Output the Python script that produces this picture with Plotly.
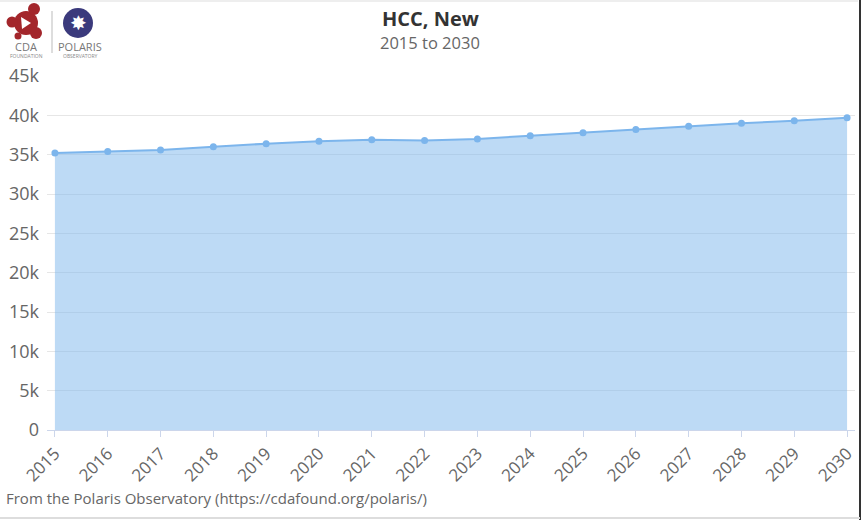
import plotly.graph_objects as go

years = list(range(2015, 2031))
values = [35200, 35400, 35600, 36000, 36400, 36700, 36900, 36800,
          37000, 37400, 37800, 38200, 38600, 39000, 39300, 39700]
y_ticks = [0, 5000, 10000, 15000, 20000, 25000, 30000, 35000, 40000, 45000]
y_tick_labels = ["0", "5k", "10k", "15k", "20k", "25k", "30k", "35k", "40k", "45k"]

W, H = 862, 520
ML, MR, MT, MB = 47, 7, 76, 90
PW, PH = W - ML - MR, H - MT - MB

def px(x):
    return (x - ML) / PW

def py(y):
    return (H - MB - y) / PH

FONT = "Open Sans, DejaVu Sans, sans-serif"

fig = go.Figure()
fig.add_trace(go.Scatter(
    x=years, y=values, mode="lines+markers",
    line=dict(color="#7cb5ec", width=2),
    marker=dict(color="#7cb5ec", size=7),
    fill="tozeroy", fillcolor="rgba(124,181,236,0.5)",
    cliponaxis=False, hoverinfo="x+y",
))

shapes = []
# frame lines
shapes.append(dict(type="line", xref="paper", yref="paper", x0=px(0), x1=px(858), y0=py(1), y1=py(1),
                   line=dict(color="#dddddd", width=1)))
shapes.append(dict(type="line", xref="paper", yref="paper", x0=px(860), x1=px(860), y0=py(0), y1=py(520),
                   line=dict(color="#333333", width=2)))
shapes.append(dict(type="line", xref="paper", yref="paper", x0=px(0), x1=px(860), y0=py(518), y1=py(518),
                   line=dict(color="#dddddd", width=2)))
# CDA logo: cluster of red circles
red = "#a3262b"
def circ(cx, cy, r, color):
    return dict(type="circle", xref="paper", yref="paper",
                x0=px(cx - r), x1=px(cx + r), y0=py(cy + r), y1=py(cy - r),
                fillcolor=color, line=dict(width=0))
shapes.append(circ(26, 23, 12, red))
shapes.append(circ(34, 9, 6, red))
shapes.append(circ(12, 22, 5.5, red))
shapes.append(circ(36, 33, 6, red))
shapes.append(circ(18, 36, 3.5, red))
# white triangle in the middle
shapes.append(dict(type="path", xref="paper", yref="paper",
                   path=f"M {px(21)},{py(17)} L {px(31)},{py(23)} L {px(22)},{py(29)} Z",
                   fillcolor="white", line=dict(width=0)))
# separator
shapes.append(dict(type="line", xref="paper", yref="paper", x0=px(52), x1=px(52), y0=py(11), y1=py(53),
                   line=dict(color="#bbbbbb", width=1)))
# Polaris circle
shapes.append(circ(78, 23, 15, "#3b3a7c"))

annotations = [
    dict(text="✸", x=px(78), y=py(23), xref="paper", yref="paper", showarrow=False,
         font=dict(color="white", size=20, family="DejaVu Sans"), xanchor="center", yanchor="middle"),
    dict(text="CDA", x=px(26), y=py(47), xref="paper", yref="paper", showarrow=False,
         font=dict(color="#777777", size=11, family=FONT), xanchor="center", yanchor="middle"),
    dict(text="FOUNDATION", x=px(26), y=py(56), xref="paper", yref="paper", showarrow=False,
         font=dict(color="#888888", size=5, family=FONT), xanchor="center", yanchor="middle"),
    dict(text="POLARIS", x=px(80), y=py(47), xref="paper", yref="paper", showarrow=False,
         font=dict(color="#777777", size=11, family=FONT), xanchor="center", yanchor="middle"),
    dict(text="OBSERVATORY", x=px(80), y=py(56), xref="paper", yref="paper", showarrow=False,
         font=dict(color="#888888", size=5, family=FONT), xanchor="center", yanchor="middle"),
    dict(text="<b>HCC, New</b>", x=px(430), y=py(18), xref="paper", yref="paper", showarrow=False,
         font=dict(color="#333333", size=20, family=FONT), xanchor="center", yanchor="middle"),
    dict(text="2015 to 2030", x=px(430), y=py(42), xref="paper", yref="paper", showarrow=False,
         font=dict(color="#666666", size=16.5, family=FONT), xanchor="center", yanchor="middle"),
    dict(text="From the Polaris Observatory (https://cdafound.org/polaris/)", x=px(4), y=py(498),
         xref="paper", yref="paper", showarrow=False,
         font=dict(color="#666666", size=15, family=FONT), xanchor="left", yanchor="middle"),
]

fig.update_layout(
    width=W, height=H,
    margin=dict(l=ML, r=MR, t=MT, b=MB, autoexpand=False),
    paper_bgcolor="white", plot_bgcolor="white",
    showlegend=False,
    shapes=shapes, annotations=annotations,
    font=dict(family=FONT, color="#666666"),
    xaxis=dict(
        range=[2014.85, 2030.15], tickmode="array", tickvals=years,
        ticktext=[str(y) for y in years], tickangle=-45,
        tickfont=dict(size=17, color="#666666"),
        showgrid=False, zeroline=False, automargin=False,
        showline=True, linecolor="#ccd6eb", linewidth=1,
        ticks="outside", ticklen=6, tickcolor="#ccd6eb",
    ),
    yaxis=dict(
        range=[0, 45000], tickmode="array", tickvals=y_ticks, ticktext=y_tick_labels,
        tickfont=dict(size=18, color="#666666"), automargin=False,
        showgrid=True, gridcolor="#e6e6e6", gridwidth=1,
        zeroline=False, showline=False, ticks="", ticklabelstandoff=7,
    ),
)

fig.write_html("out.html", config={"displayModeBar": False},
               post_script="document.body.style.margin='0';document.body.style.overflow='hidden';")
